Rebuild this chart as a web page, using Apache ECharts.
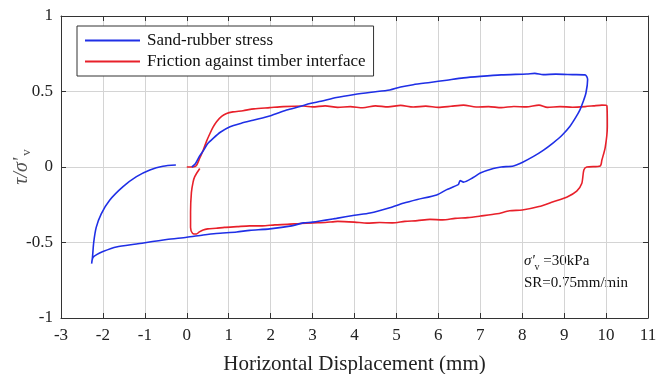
<!DOCTYPE html>
<html>
<head>
<meta charset="utf-8">
<script src="https://cdn.jsdelivr.net/npm/echarts@6/dist/echarts.min.js"></script>
<style>
html,body{margin:0;padding:0;background:#fff;}
#c{width:657px;height:374px;}
</style>
</head>
<body>
<div id="c"></div>
<script>
const seriesNames = ['Sand-rubber stress', 'Friction against timber interface'];

const blueX = [0.12, 0.2, 0.3, 0.4, 0.5, 0.63, 0.8, 1.03, 1.3, 1.58, 2.0, 2.38, 2.7, 2.94, 3.2, 3.57, 4.0, 4.4, 4.84, 5.1, 5.4, 5.8, 6.2, 6.6, 7.0, 7.5, 8.11, 8.3, 8.5, 8.8, 9.2, 9.5,
  9.56, 9.52, 9.45, 9.38, 9.28, 9.14, 8.95, 8.74, 8.5, 8.27, 8.0, 7.79, 7.5, 7.31, 7.0, 6.83, 6.6, 6.52, 6.48, 6.45, 6.2, 5.96, 5.5, 5.16, 4.84, 4.37, 4.0, 3.57, 3.0, 2.78, 2.5, 1.98, 1.5, 1.19, 0.7, 0.39, 0.0, -0.48, -1.2, -1.68, -2.0, -2.15, -2.24, -2.27,
  -2.25, -2.22, -2.16, -2.04, -1.84, -1.52, -1.2, -0.88, -0.57, -0.26];
const blueY = [0.0, 0.02, 0.07, 0.11, 0.155, 0.19, 0.23, 0.267, 0.29, 0.31, 0.34, 0.377, 0.40, 0.42, 0.435, 0.46, 0.48, 0.495, 0.51, 0.53, 0.545, 0.56, 0.575, 0.59, 0.60, 0.61, 0.616, 0.62, 0.612, 0.615, 0.612, 0.61,
  0.58, 0.49, 0.43, 0.38, 0.33, 0.27, 0.21, 0.16, 0.11, 0.07, 0.03, 0.007, 0.0, -0.01, -0.04, -0.07, -0.1, -0.09, -0.115, -0.12, -0.15, -0.185, -0.215, -0.24, -0.27, -0.305, -0.32, -0.34, -0.365, -0.37, -0.39, -0.41, -0.42, -0.43, -0.44, -0.45, -0.465, -0.48, -0.51, -0.53, -0.56, -0.58, -0.6, -0.64,
  -0.6, -0.5, -0.40, -0.31, -0.22, -0.13, -0.064, -0.02, 0.005, 0.013];

const redX = [0.0, 0.15, 0.23, 0.31, 0.39, 0.47, 0.55, 0.63, 0.71, 0.83, 0.95, 1.1, 1.34, 1.6, 1.98, 2.3, 2.78, 3.0, 3.3, 3.6, 3.9, 4.2, 4.5, 4.8, 5.1, 5.4, 5.7, 6.0, 6.3, 6.6, 6.9, 7.2, 7.5, 7.8, 8.1, 8.4, 8.6, 8.9, 9.2, 9.5, 9.7, 9.9, 10.02,
  10.03, 9.98, 9.9, 9.86, 9.54, 9.47, 9.42, 9.3, 9.06, 8.74, 8.4, 8.0, 7.7, 7.4, 7.0, 6.7, 6.4, 6.1, 5.8, 5.5, 5.2, 4.9, 4.6, 4.3, 4.0, 3.6, 3.3, 3.0, 2.7, 2.4, 2.1, 1.8, 1.5, 1.2, 0.9, 0.7, 0.5, 0.39, 0.3, 0.23, 0.14,
  0.09, 0.09, 0.11, 0.15, 0.19, 0.31];
const redY = [0.0, 0.0, 0.01, 0.06, 0.11, 0.17, 0.22, 0.265, 0.30, 0.335, 0.355, 0.365, 0.373, 0.385, 0.393, 0.40, 0.404, 0.398, 0.405, 0.395, 0.40, 0.392, 0.405, 0.398, 0.408, 0.397, 0.403, 0.395, 0.402, 0.41, 0.397, 0.40, 0.393, 0.401, 0.398, 0.41, 0.395, 0.40, 0.396, 0.40, 0.405, 0.41, 0.405,
  0.27, 0.13, 0.046, 0.007, 0.0, -0.02, -0.11, -0.16, -0.20, -0.23, -0.262, -0.285, -0.29, -0.31, -0.325, -0.335, -0.34, -0.35, -0.347, -0.355, -0.36, -0.37, -0.368, -0.372, -0.365, -0.36, -0.368, -0.37, -0.374, -0.38, -0.383, -0.39, -0.39, -0.395, -0.40, -0.406, -0.41, -0.417, -0.43, -0.444, -0.44,
  -0.40, -0.3, -0.17, -0.1, -0.064, -0.01];

const xMin = -3, xMax = 11, xStep = 1;
const yMin = -1, yMax = 1, yStep = 0.5;

const FONT = '"Liberation Serif", "Times New Roman", serif';
const zip = (xs, ys) => xs.map((x, i) => [x, ys[i]]);

const chart = echarts.init(document.getElementById('c'));
const frame = {show: true, onZero: false, lineStyle: {color: '#333', width: 1}};
const tick = {show: true, inside: true, length: 5, lineStyle: {color: '#333'}};
chart.setOption({
  animation: false,
  backgroundColor: '#fff',
  grid: {left: 61, right: 9, top: 16, bottom: 56, containLabel: false, outerBoundsMode: 'none'},
  xAxis: [{
    type: 'value', min: xMin, max: xMax, interval: xStep, position: 'bottom',
    axisLine: frame, axisTick: tick,
    splitLine: {show: true, lineStyle: {color: '#d4d4d4', width: 1}},
    axisLabel: {fontFamily: FONT, fontSize: 17, color: '#222', margin: 9},
    name: 'Horizontal Displacement (mm)', nameLocation: 'middle', nameGap: 36,
    nameTextStyle: {fontFamily: FONT, fontSize: 21, color: '#222'}
  }, {
    type: 'value', min: xMin, max: xMax, interval: xStep, position: 'top',
    axisLine: frame, axisTick: tick, axisLabel: {show: false}, splitLine: {show: false}
  }],
  yAxis: [{
    type: 'value', min: yMin, max: yMax, interval: yStep, position: 'left',
    axisLine: frame, axisTick: tick,
    splitLine: {show: true, lineStyle: {color: '#d4d4d4', width: 1}},
    axisLabel: {fontFamily: FONT, fontSize: 17, color: '#222', margin: 8}
  }, {
    type: 'value', min: yMin, max: yMax, interval: yStep, position: 'right',
    axisLine: frame, axisTick: tick, axisLabel: {show: false}, splitLine: {show: false}
  }],
  legend: {
    left: 77, top: 26, orient: 'vertical',
    backgroundColor: '#fff', borderColor: '#333', borderWidth: 1,
    padding: [6, 8, 6, 8], itemGap: 4, itemWidth: 55, itemHeight: 2,
    textStyle: {fontFamily: FONT, fontSize: 17, color: '#111', padding: [0, 0, 0, 2]},
    data: [{name: seriesNames[0], icon: 'rect'}, {name: seriesNames[1], icon: 'rect'}]
  },
  series: [{
    name: seriesNames[0], type: 'line', data: zip(blueX, blueY), showSymbol: false, symbol: 'none',
    smooth: 0.25, lineStyle: {color: '#1f2fe6', width: 1.6}, itemStyle: {color: '#1f2fe6'}, z: 3
  }, {
    name: seriesNames[1], type: 'line', data: zip(redX, redY), showSymbol: false, symbol: 'none',
    smooth: 0.25, lineStyle: {color: '#e8202a', width: 1.6}, itemStyle: {color: '#e8202a'}, z: 2
  }],
  graphic: [{
    type: 'text', x: 22, y: 167, rotation: Math.PI / 2, originX: 0, originY: 0,
    style: {
      text: '{a|τ/σ\'}{s|v}', fill: '#555', align: 'center', verticalAlign: 'middle',
      rich: {
        a: {fontFamily: FONT, fontSize: 20, fontStyle: 'italic', fill: '#555', verticalAlign: 'middle'},
        s: {fontFamily: FONT, fontSize: 13, fill: '#555', verticalAlign: 'bottom', padding: [10, 0, 0, 2]}
      }
    }
  }, {
    type: 'text', left: 524, top: 254,
    style: {
      text: '{a|σ\'}{s|v}{b| =30kPa}', rich: {
        a: {fontFamily: FONT, fontSize: 15, fontStyle: 'italic', fill: '#111'},
        s: {fontFamily: FONT, fontSize: 10, fill: '#111', verticalAlign: 'bottom', padding: [11, 0, 0, 0]},
        b: {fontFamily: FONT, fontSize: 15, fill: '#111'}
      }
    }
  }, {
    type: 'text', left: 524, top: 276,
    style: {text: 'SR=0.75mm/min', fontFamily: FONT, fontSize: 15, fill: '#111'}
  }]
});
</script>
</body>
</html>
